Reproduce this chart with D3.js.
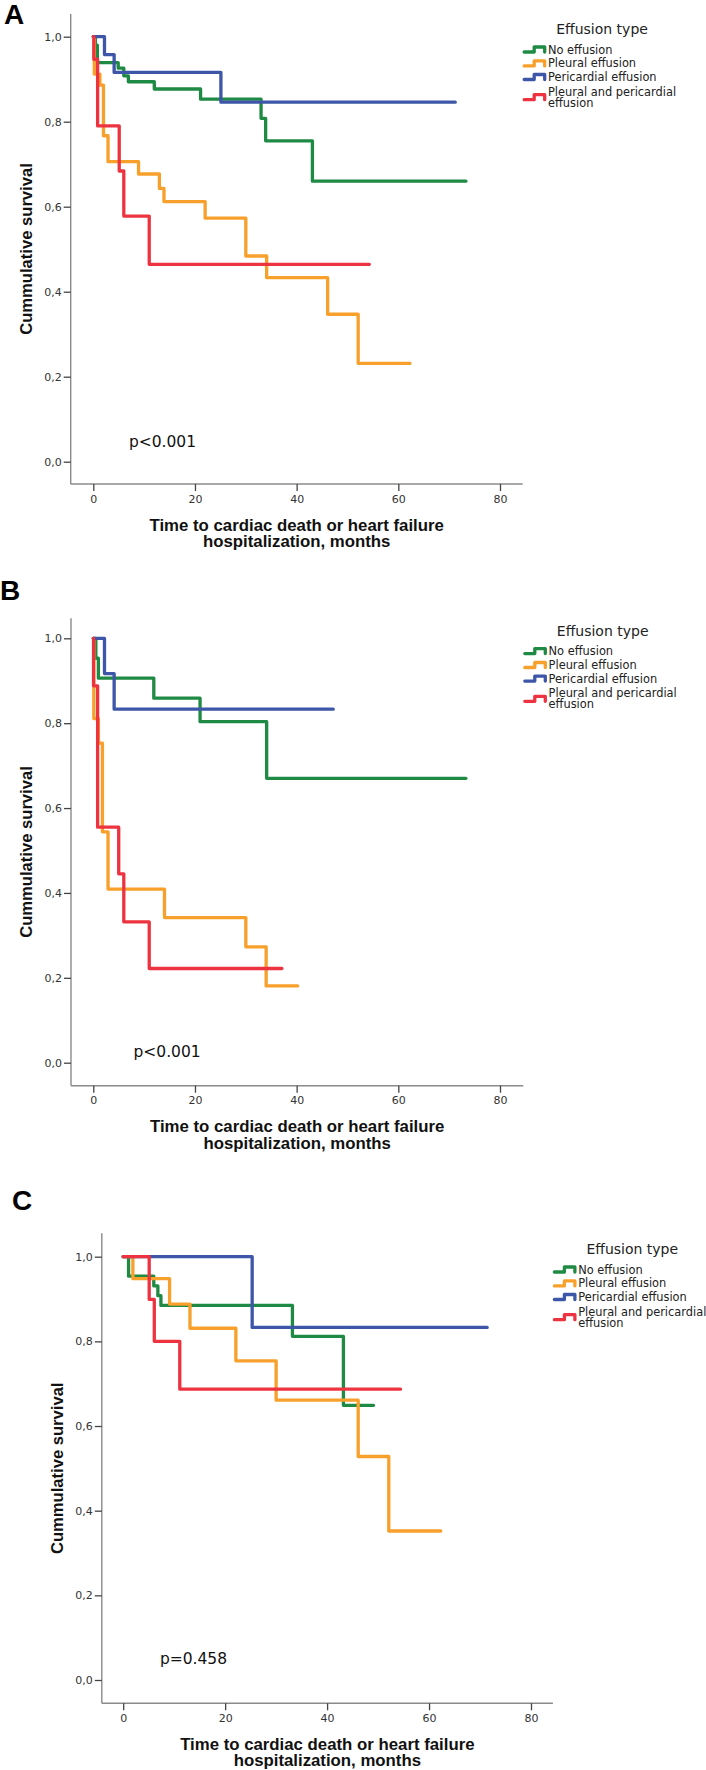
<!DOCTYPE html>
<html>
<head>
<meta charset="utf-8">
<script src="https://cdn.jsdelivr.net/npm/d3@7"></script>
<style>
  html, body { margin: 0; padding: 0; background: #fff; }
  svg { display: block; }
</style>
</head>
<body>
<svg id="chart" width="706" height="1770"></svg>
<script>
// ---------------- DATA ----------------
const categories = ["No effusion", "Pleural effusion", "Pericardial effusion", "Pleural and pericardial effusion"];
const legendLines = [["No effusion"], ["Pleural effusion"], ["Pericardial effusion"], ["Pleural and pericardial", "effusion"]];
const seriesColors = ["#1e8a44", "#f7a02b", "#3d56a8", "#ee3340"];
const legendTitle = "Effusion type";
const panelLetters = ["A", "B", "C"];
const pValues = ["p<0.001", "p<0.001", "p=0.458"];
const xTicks = [0, 20, 40, 60, 80];
const yTicks = [0, 0.2, 0.4, 0.6, 0.8, 1.0];
const xTitleLines = ["Time to cardiac death or heart failure", "hospitalization, months"];
const yTitle = "Cummulative survival";

// Kaplan-Meier steps: [time (months), cumulative survival]; last point = end of follow-up
// Panel A
const aNoEffusion   = [[0,1],[0.4,0.98],[0.8,0.939],[4.9,0.926],[6.0,0.908],[6.9,0.894],[12,0.877],[21.1,0.853],[33,0.808],[33.9,0.755],[43.1,0.660],[73.3,0.660]];
const aPleural      = [[0,1],[0.2,0.912],[1.3,0.886],[2.0,0.767],[2.9,0.706],[8.9,0.677],[13,0.643],[13.9,0.612],[22,0.573],[30,0.484],[34.1,0.433],[46.1,0.347],[52.1,0.2315],[62.3,0.2315]];
const aPericardial  = [[0,1],[2.2,0.958],[4.1,0.916],[25.1,0.846],[71.2,0.846]];
const aBoth         = [[0,1],[0.1,0.947],[0.85,0.790],[5.1,0.684],[6.0,0.578],[11,0.4645],[54.3,0.4645]];
// Panel B
const bNoEffusion   = [[0,1],[0.5,0.953],[1.0,0.906],[11.9,0.859],[21,0.8035],[34.1,0.670],[73.3,0.670]];
const bPleural      = [[0,1],[0.1,0.811],[1.0,0.753],[1.8,0.544],[2.9,0.409],[14,0.342],[30,0.273],[34,0.181],[40.2,0.181]];
const bPericardial  = [[0,1],[2.2,0.917],[4.1,0.833],[47.2,0.833]];
const bBoth         = [[0,1],[0.05,0.888],[0.85,0.555],[5.0,0.445],[6.0,0.332],[11.0,0.222],[37.1,0.222]];
// Panel C
const cNoEffusion   = [[0,1],[1.05,0.954],[6.0,0.931],[6.8,0.908],[7.4,0.885],[33.2,0.812],[43.2,0.649],[49.1,0.649]];
const cPleural      = [[0,1],[1.9,0.948],[9.1,0.888],[13.1,0.831],[22.1,0.754],[30,0.661],[46.1,0.528],[52.1,0.352],[62.3,0.352]];
const cPericardial  = [[0,1],[25.3,0.833],[71.4,0.833]];
const cBoth         = [[0,1],[5.1,0.899],[6.1,0.80],[11.1,0.687],[54.4,0.687]];

const panelSeries = [
  [aNoEffusion, aPleural, aPericardial, aBoth],
  [bNoEffusion, bPleural, bPericardial, bBoth],
  [cNoEffusion, cPleural, cPericardial, cBoth]
];
// p-value annotation anchors in data units [time, survival]
const pAnchors = [[7.0, 0.047], [7.9, 0.026], [7.2, 0.0496]];

// ---------------- LAYOUT ----------------
const layouts = [
  {lx: 4,  ly: 23.5, top: 14,     y1: 36.7,   y0: 461.7,  axisY: 484,    axisX: 70.7,  x0: 93.3,  x80: 500,   xEnd: 522.7},
  {lx: 0,  ly: 600,  top: 618.3,  y1: 638.3,  y0: 1062.7, axisY: 1085.7, axisX: 71,    x0: 93.3,  x80: 500,   xEnd: 523.3},
  {lx: 12, ly: 1210, top: 1233.3, y1: 1256.7, y0: 1680,   axisY: 1703.3, axisX: 101.8, x0: 123.2, x80: 531,   xEnd: 552.9}
];

const svg = d3.select("#chart");
const fontSans = "'DejaVu Sans', Verdana, sans-serif";
const fontBold = "'Liberation Sans', Arial, sans-serif";
const fmt = v => d3.format(".1f")(v).replace(".", ",");

layouts.forEach((L, i) => {
  const g = svg.append("g");
  const x = d3.scaleLinear().domain([0, 80]).range([L.x0, L.x80]);
  const y = d3.scaleLinear().domain([0, 1]).range([L.y0, L.y1]);

  // panel letter
  g.append("text").attr("x", L.lx).attr("y", L.ly)
    .attr("font-family", fontBold).attr("font-weight", "bold")
    .attr("font-size", 28).attr("fill", "#000").text(panelLetters[i]);

  // axis lines
  g.append("line").attr("x1", L.axisX).attr("x2", L.axisX).attr("y1", L.top).attr("y2", L.axisY)
    .attr("stroke", "#8a8a8a").attr("stroke-width", 1.4);
  g.append("line").attr("x1", L.axisX).attr("x2", L.xEnd).attr("y1", L.axisY).attr("y2", L.axisY)
    .attr("stroke", "#8a8a8a").attr("stroke-width", 1.4);

  // y axis ticks
  const yAxis = d3.axisLeft(y).tickValues(yTicks).tickSize(7).tickPadding(2).tickFormat(fmt);
  const yg = g.append("g").attr("transform", `translate(${L.axisX},0)`).call(yAxis);
  yg.select(".domain").remove();
  yg.selectAll(".tick line").attr("stroke", "#444").attr("stroke-width", 1.3);
  yg.selectAll(".tick text").attr("font-family", fontSans).attr("font-size", 11).attr("fill", "#333");

  // x axis ticks
  const xAxis = d3.axisBottom(x).tickValues(xTicks).tickSize(7).tickPadding(4).tickFormat(d3.format("d"));
  const xg = g.append("g").attr("transform", `translate(0,${L.axisY})`).call(xAxis);
  xg.select(".domain").remove();
  xg.selectAll(".tick line").attr("stroke", "#444").attr("stroke-width", 1.3);
  xg.selectAll(".tick text").attr("font-family", fontSans).attr("font-size", 11).attr("fill", "#333");

  // KM step lines
  const line = d3.line().x(d => x(d[0])).y(d => y(d[1])).curve(d3.curveStepAfter);
  g.selectAll("path.km").data(panelSeries[i]).join("path")
    .attr("class", "km")
    .attr("d", line)
    .attr("fill", "none")
    .attr("stroke", (d, k) => seriesColors[k])
    .attr("stroke-width", 3.3)
    .attr("stroke-linecap", "round")
    .attr("stroke-linejoin", "round");

  // p value
  g.append("text").attr("x", x(pAnchors[i][0])).attr("y", y(pAnchors[i][1]))
    .attr("dominant-baseline", "central")
    .attr("font-family", fontSans).attr("font-size", 15.5).attr("fill", "#111")
    .text(pValues[i]);

  // x title
  const cx = (L.axisX + L.xEnd) / 2;
  xTitleLines.forEach((t, j) => {
    g.append("text").attr("x", cx).attr("y", L.axisY + 41 + j * 16.6)
      .attr("text-anchor", "middle").attr("dominant-baseline", "central")
      .attr("font-family", fontBold).attr("font-weight", "bold").attr("font-size", 16.8)
      .attr("fill", "#111").text(t);
  });

  // y title
  const cy = (L.top + L.axisY) / 2;
  g.append("text")
    .attr("transform", `translate(${L.axisX - 44.7},${cy}) rotate(-90)`)
    .attr("text-anchor", "middle").attr("dominant-baseline", "central")
    .attr("font-family", fontBold).attr("font-weight", "bold").attr("font-size", 16.6)
    .attr("fill", "#111").text(yTitle);

  // legend
  const lg = g.append("g");
  lg.append("text").attr("x", L.xEnd + 33.5).attr("y", L.y1 - 7.8)
    .attr("dominant-baseline", "central")
    .attr("font-family", fontSans).attr("font-size", 14).attr("fill", "#222")
    .text(legendTitle);
  const itemY = [12.8, 26.7, 40.3, 55];
  categories.forEach((c, k) => {
    const lines = legendLines[k];
    const yy = L.y1 + itemY[k];
    const sy = lines.length > 1 ? yy + 5.5 : yy;
    const sx = L.xEnd;
    lg.append("path")
      .attr("d", `M${sx + 1.5},${sy + 2.5}H${sx + 11.5}V${sy - 2.5}H${sx + 22}V${sy + 2.5}`)
      .attr("fill", "none").attr("stroke", seriesColors[k]).attr("stroke-width", 3.3)
      .attr("stroke-linecap", "round").attr("stroke-linejoin", "round");
    lines.forEach((t, j) => {
      lg.append("text").attr("x", L.xEnd + 25.3).attr("y", yy + j * 10.8)
        .attr("dominant-baseline", "central")
        .attr("font-family", fontSans).attr("font-size", 11.4).attr("fill", "#222")
        .text(t);
    });
  });
});
</script>
</body>
</html>
